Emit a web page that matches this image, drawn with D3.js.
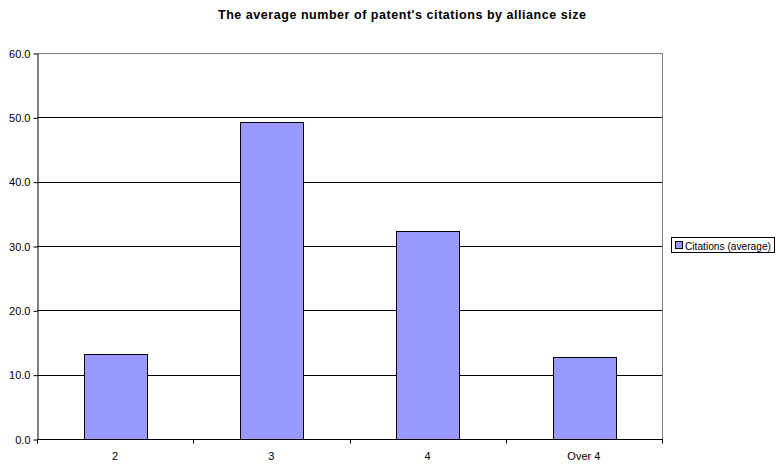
<!DOCTYPE html>
<html><head><meta charset="utf-8">
<script src="https://cdn.jsdelivr.net/npm/d3@7"></script>
<style>body{margin:0;background:#fff}svg{display:block;font-family:"Liberation Sans",Arial,sans-serif}</style>
</head><body>
<script>
const categories = ["2", "3", "4", "Over 4"];
const citations = [13.2, 49.3, 32.4, 12.8];
const yTicks = [0, 10, 20, 30, 40, 50, 60];
const seriesName = "Citations (average)";
const title = "The average number of patent's citations by alliance size";

const W = 776, H = 464;
const FONT = "'Liberation Sans', Arial, sans-serif";
const m = {left: 37, right: 662, top: 53, bottom: 439};
const svg = d3.select("body").append("svg").attr("width", W).attr("height", H);

const x = d3.scaleBand().domain(categories).range([m.left, m.right]).padding(0);
const y = d3.scaleLinear().domain([0, 60]).range([m.bottom, m.top]);

// gridlines
svg.append("g").selectAll("line").data(yTicks.filter(d => d > 0 && d < 60)).join("line")
  .attr("x1", m.left).attr("x2", m.right)
  .attr("y1", d => Math.round(y(d)) + 0.5).attr("y2", d => Math.round(y(d)) + 0.5)
  .attr("stroke", "#000").attr("stroke-width", 1);
// plot border top/right (grey)
svg.append("path")
  .attr("d", `M${m.left},${m.top + 0.5}H${m.right + 0.5}V${m.bottom}`)
  .attr("fill", "none").attr("stroke", "#808080").attr("stroke-width", 1);

// bars
const bw = x.bandwidth() * 0.4;
svg.append("g").selectAll("rect").data(categories).join("rect")
  .attr("x", (d) => Math.round(x(d) + x.bandwidth() / 2 - bw / 2) + 0.5)
  .attr("width", Math.round(bw))
  .attr("y", (d, i) => Math.round(y(citations[i])) + 0.5)
  .attr("height", (d, i) => Math.round(y(0)) - Math.round(y(citations[i])))
  .attr("fill", "#9999FF").attr("stroke", "#000").attr("stroke-width", 1);

// y axis
const yAxis = svg.append("g").attr("transform", `translate(${m.left + 0.5},0.5)`)
  .call(d3.axisLeft(y).tickValues(yTicks).tickFormat(d3.format(".1f")).tickSizeOuter(0).tickSizeInner(4).tickPadding(3));
yAxis.select(".domain").attr("stroke", "#000");
yAxis.selectAll("line").attr("stroke", "#000");
yAxis.selectAll("text").attr("font-size", "11px").attr("fill", "#000").attr("font-family", FONT);

// x axis
const xAxis = svg.append("g").attr("transform", `translate(0,${Math.round(y(0)) + 0.5})`);
xAxis.append("line").attr("x1", m.left).attr("x2", m.right + 1).attr("stroke", "#000");
const bounds = categories.map(d => x(d)).concat([m.right]);
xAxis.selectAll("line.tk").data(bounds).join("line").attr("class", "tk")
  .attr("x1", d => Math.round(d) + 0.5).attr("x2", d => Math.round(d) + 0.5)
  .attr("y1", 0).attr("y2", 4).attr("stroke", "#000");
xAxis.selectAll("text").data(categories).join("text")
  .attr("x", d => x(d) + x.bandwidth() / 2).attr("y", 20)
  .attr("text-anchor", "middle").attr("font-size", "11px").attr("fill", "#000").attr("font-family", FONT)
  .text(d => d);

// title
svg.append("text").attr("x", 402).attr("y", 19).attr("text-anchor", "middle").attr("font-family", FONT)
  .attr("font-size", "12.5px").attr("font-weight", "bold").attr("fill", "#000")
  .attr("textLength", 368).attr("lengthAdjust", "spacing").text(title);

// legend
const lg = svg.append("g");
lg.append("rect").attr("x", 671.5).attr("y", 237.5).attr("width", 103).attr("height", 15)
  .attr("fill", "#fff").attr("stroke", "#000");
lg.append("rect").attr("x", 675.5).attr("y", 241.5).attr("width", 7).attr("height", 7)
  .attr("fill", "#9999FF").attr("stroke", "#000");
lg.append("text").attr("x", 685).attr("y", 249.5).attr("font-size", "10.5px").attr("font-family", FONT)
  .attr("textLength", 86).attr("lengthAdjust", "spacingAndGlyphs").attr("fill", "#000").text(seriesName);
</script>
</body></html>
